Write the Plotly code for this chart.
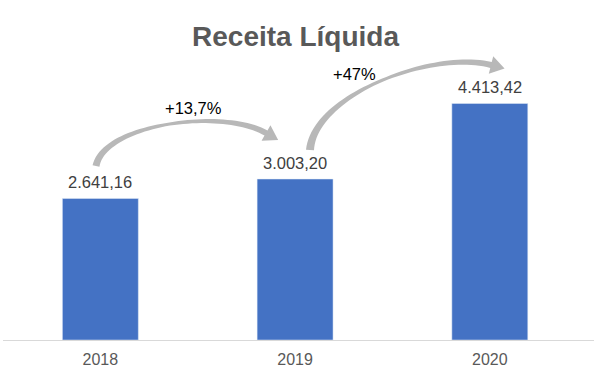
import plotly.graph_objects as go
import numpy as np

years = ["2018", "2019", "2020"]
values = [2641.16, 3003.20, 4413.42]
value_labels = ["2.641,16", "3.003,20", "4.413,42"]
growth_labels = ["+13,7%", "+47%"]

W, H = 597, 390
ML, MR, MT, MB = 3, 3, 72, 50
XR = [-0.5, 2.535]
YR = [0, 5000]
pw = W - ML - MR
ph = H - MT - MB
FONT = "Liberation Sans, Arial"

def px2paper(px, py):
    return (px - ML) / pw, (H - MB - py) / ph

def arrow_path(P, widths, hw, hl, n=50):
    P = np.array(P, dtype=float)
    t = np.linspace(0, 1, n)[:, None]
    pts = ((1-t)**3)*P[0] + 3*((1-t)**2)*t*P[1] + 3*(1-t)*t**2*P[2] + t**3*P[3]
    der = 3*((1-t)**2)*(P[1]-P[0]) + 6*(1-t)*t*(P[2]-P[1]) + 3*t**2*(P[3]-P[2])
    der = der / np.linalg.norm(der, axis=1)[:, None]
    nrm = np.stack([-der[:, 1], der[:, 0]], axis=1)
    w = np.interp(t[:, 0], [0, 0.5, 1], widths)[:, None] / 2
    left = pts + nrm * w
    right = pts - nrm * w
    E = pts[-1]; d = der[-1]; nn = nrm[-1]
    head = [E + nn*hw, E + d*hl, E - nn*hw]
    poly = list(left) + head + list(right[::-1])
    s = ""
    for i, (a, b) in enumerate(poly):
        x, y = px2paper(a, b)
        s += ("M" if i == 0 else "L") + f"{x:.5f},{y:.5f} "
    return s + "Z"

xs = list(range(len(years)))

fig = go.Figure()
fig.add_trace(go.Bar(
    x=xs, y=values, width=0.39, marker_color="#4472C4",
    hoverinfo="skip",
))

annotations = []
for i, (v, lab) in enumerate(zip(values, value_labels)):
    annotations.append(dict(x=i, y=v, text=lab, showarrow=False, yanchor="bottom",
                            yshift=5, font=dict(size=16.5, color="#404040", family=FONT)))

for lab, (px, py) in zip(growth_labels, [(193, 108), (354, 74)]):
    gx, gy = px2paper(px, py)
    annotations.append(dict(x=gx, y=gy, xref="paper", yref="paper", text=lab,
                            xanchor="center", yanchor="middle", showarrow=False,
                            font=dict(size=16.5, color="#000000", family=FONT)))

shapes = [
    dict(type="path", xref="paper", yref="paper",
         path=arrow_path([(96, 166), (104, 124), (222, 108), (266, 133)], [7, 3, 6], 9, 14),
         fillcolor="#b8b8b8", line=dict(width=0)),
    dict(type="path", xref="paper", yref="paper",
         path=arrow_path([(310, 150), (314, 95), (432, 50), (491, 65)], [8, 3, 6], 9, 14),
         fillcolor="#b8b8b8", line=dict(width=0)),
]

fig.update_layout(
    width=W, height=H,
    margin=dict(l=ML, r=MR, t=MT, b=MB),
    paper_bgcolor="white", plot_bgcolor="white",
    title=dict(text="<b>Receita Líquida</b>", x=0.495, xanchor="center", y=1 - 36/H,
               yanchor="middle",
               font=dict(size=28, color="#595959", family=FONT)),
    xaxis=dict(range=XR, tickvals=xs, ticktext=years, showgrid=False, zeroline=False,
               showline=True, linecolor="#d9d9d9", linewidth=1,
               ticks="outside", ticklen=5, tickcolor="rgba(0,0,0,0)",
               tickfont=dict(size=16, color="#595959", family=FONT)),
    yaxis=dict(range=YR, visible=False),
    showlegend=False,
    annotations=annotations,
    shapes=shapes,
)

fig.write_html("out.html", config={"displayModeBar": False},
               post_script="document.body.style.margin='0';")
